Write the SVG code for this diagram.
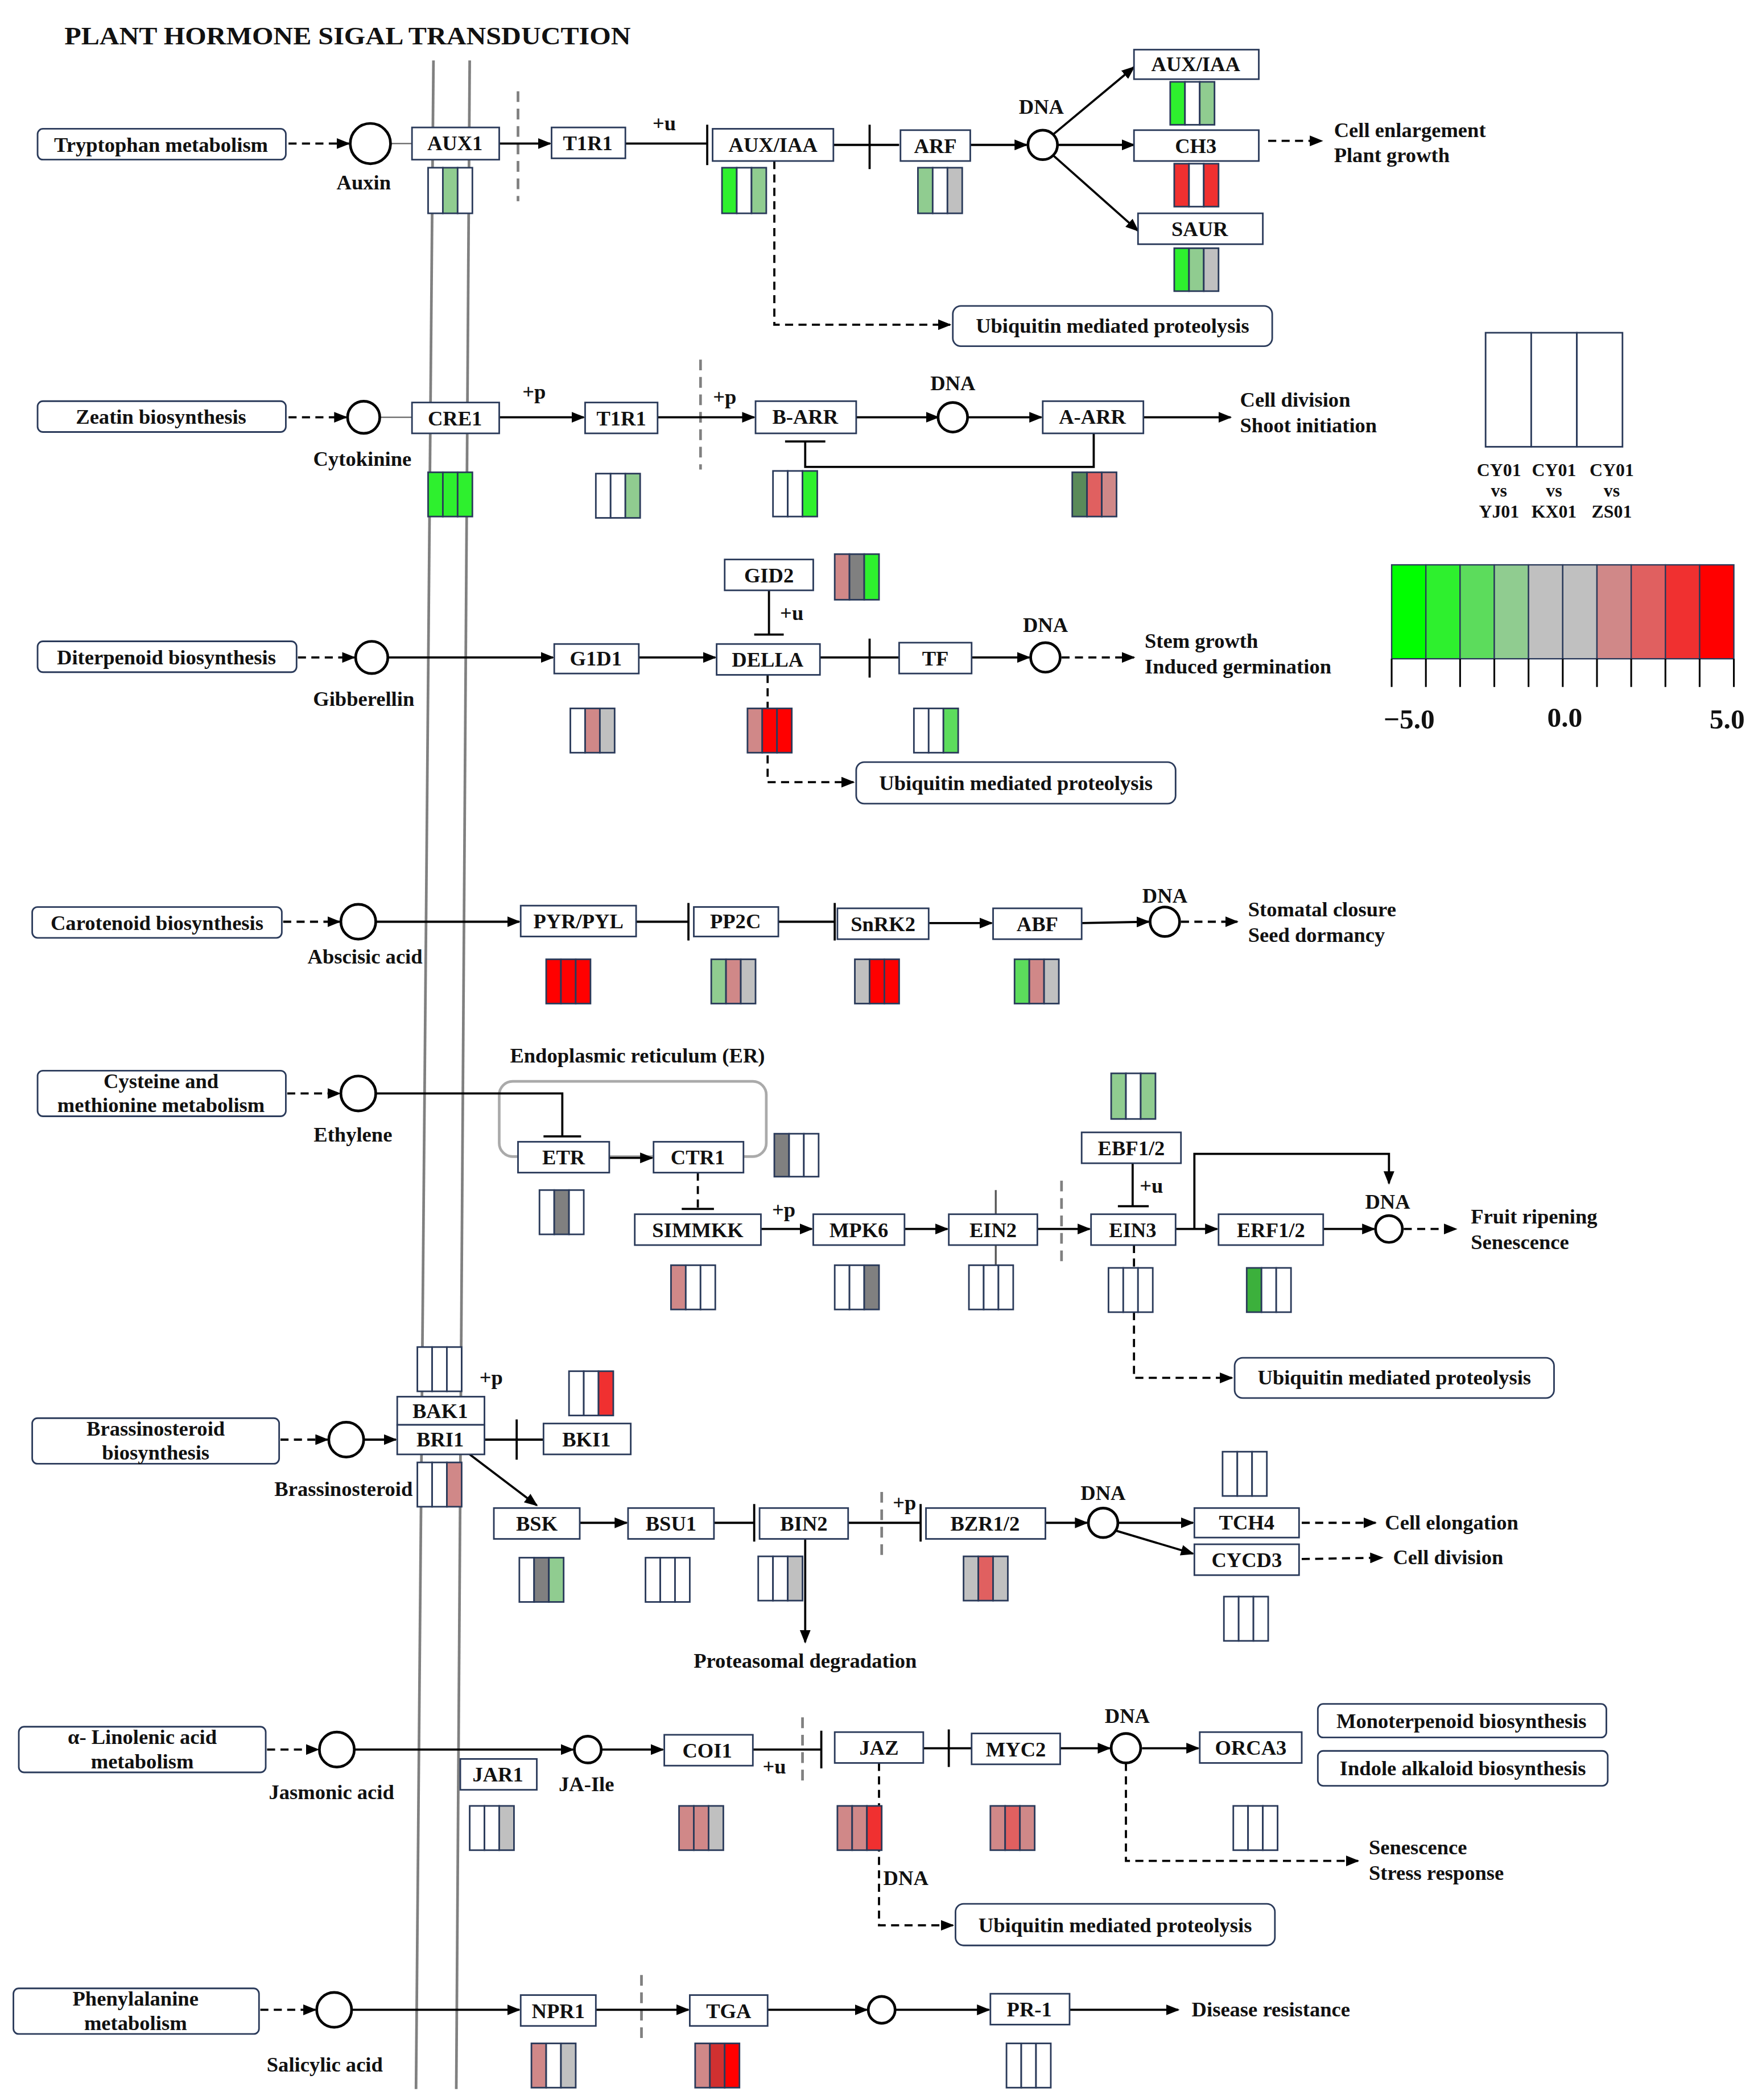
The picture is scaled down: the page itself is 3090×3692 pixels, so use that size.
<svg xmlns="http://www.w3.org/2000/svg" width="3090" height="3692" viewBox="0 0 3090 3692">
<style>
.bx{fill:#fff;stroke:#2a3a5a;stroke-width:1.2}
.pw{fill:#fff;stroke:#2a3a5a;stroke-width:1.2}
.t{font-family:"Liberation Serif",serif;font-weight:bold;font-size:15.5px;text-anchor:middle;fill:#111}
.l{font-family:"Liberation Serif",serif;font-weight:bold;font-size:15.5px;fill:#111}
.ln{stroke:#000;stroke-width:1.6;fill:none}
.da{stroke:#000;stroke-width:1.6;fill:none;stroke-dasharray:6,4}
.gd{stroke:#808080;stroke-width:2;fill:none;stroke-dasharray:8,5}
.c{fill:#fff;stroke:#000;stroke-width:2}
.s rect{stroke:#2a3a5a;stroke-width:1.2}
.w{fill:#fff}.g1{fill:#00ff00}.g2{fill:#2ef02e}.g3{fill:#5cdc5c}.g4{fill:#90cc90}.gr{fill:#c0c0c0}
.r1{fill:#d08888}.r2{fill:#e06060}.r3{fill:#f03030}.r4{fill:#ff0000}.dg{fill:#808080}.dgr{fill:#5a8a5a}.mg{fill:#3cb03c}
</style>
<defs>
<marker id="a" markerUnits="userSpaceOnUse" markerWidth="10" markerHeight="8" refX="9" refY="4" orient="auto"><path d="M0,0L10,4L0,8z" fill="#000"/></marker>
</defs>
<rect width="3090" height="3692" fill="#fff"/>
<g transform="scale(2.3588)">
<text x="48" y="33" class="l" style="font-size:19px" textLength="422" lengthAdjust="spacingAndGlyphs">PLANT HORMONE SIGAL TRANSDUCTION</text>
<g id="membrane" stroke="#808080" stroke-width="2"><line x1="323" y1="45" x2="310" y2="1557"/><line x1="350" y1="45" x2="340" y2="1557"/></g>
<rect x="372" y="806" width="199" height="56" rx="10" fill="none" stroke="#aaa" stroke-width="2"/>
<text x="475" y="792" class="t">Endoplasmic reticulum (ER)</text>

<g id="connectors">
<line x1="215" y1="107" x2="260" y2="107" class="da" marker-end="url(#a)"/>
<line x1="291" y1="107" x2="307" y2="107" stroke="#666" stroke-width="1"/>
<line x1="386" y1="68" x2="386" y2="150" class="gd"/>
<line x1="372" y1="107" x2="410" y2="107" class="ln" marker-end="url(#a)"/>
<path d="M466,107H527M527,93V123" class="ln"/>
<path d="M621,108H670M648,93V126" class="ln"/>
<line x1="723" y1="108" x2="765" y2="108" class="ln" marker-end="url(#a)"/>
<line x1="785" y1="100" x2="845" y2="50" class="ln" marker-end="url(#a)"/>
<line x1="788" y1="108" x2="845" y2="108" class="ln" marker-end="url(#a)"/>
<line x1="785" y1="116" x2="848" y2="172" class="ln" marker-end="url(#a)"/>
<line x1="945" y1="105" x2="985" y2="105" class="da" marker-end="url(#a)"/>
<path d="M577,120V242H708" class="da" marker-end="url(#a)"/>
<line x1="215" y1="311" x2="258" y2="311" class="da" marker-end="url(#a)"/>
<line x1="283" y1="311" x2="307" y2="311" stroke="#666" stroke-width="1"/>
<line x1="372" y1="311" x2="435" y2="311" class="ln" marker-end="url(#a)"/>
<line x1="522" y1="268" x2="522" y2="350" class="gd"/>
<line x1="490" y1="311" x2="562" y2="311" class="ln" marker-end="url(#a)"/>
<line x1="638" y1="311" x2="699" y2="311" class="ln" marker-end="url(#a)"/>
<line x1="721" y1="311" x2="776" y2="311" class="ln" marker-end="url(#a)"/>
<line x1="852" y1="311" x2="917" y2="311" class="ln" marker-end="url(#a)"/>
<path d="M815,323V348H600V329M585,329H615" class="ln"/>
<line x1="222" y1="490" x2="264" y2="490" class="da" marker-end="url(#a)"/>
<line x1="289" y1="490" x2="412" y2="490" class="ln" marker-end="url(#a)"/>
<line x1="476" y1="490" x2="533" y2="490" class="ln" marker-end="url(#a)"/>
<path d="M573,440V473M562,473H584" class="ln"/>
<path d="M611,490H670M648,476V505" class="ln"/>
<line x1="724" y1="490" x2="767" y2="490" class="ln" marker-end="url(#a)"/>
<line x1="791" y1="490" x2="845" y2="490" class="da" marker-end="url(#a)"/>
<path d="M572,503V583H636" class="da" marker-end="url(#a)"/>
<line x1="211" y1="687" x2="253" y2="687" class="da" marker-end="url(#a)"/>
<line x1="280" y1="687" x2="387" y2="687" class="ln" marker-end="url(#a)"/>
<path d="M474,687H513M513,673V701" class="ln"/>
<path d="M580,687H622M622,673V701" class="ln"/>
<line x1="692" y1="688" x2="739" y2="688" class="ln" marker-end="url(#a)"/>
<line x1="806" y1="688" x2="856" y2="687" class="ln" marker-end="url(#a)"/>
<line x1="880" y1="687" x2="922" y2="687" class="da" marker-end="url(#a)"/>
<line x1="214" y1="815" x2="253" y2="815" class="da" marker-end="url(#a)"/>
<path d="M280,815H419V847M405,847H433" class="ln"/>
<line x1="454" y1="863" x2="486" y2="863" class="ln" marker-end="url(#a)"/>
<path d="M520,874V901" class="da"/><path d="M508,901H532" class="ln"/>
<line x1="567" y1="916" x2="605" y2="916" class="ln" marker-end="url(#a)"/>
<line x1="674" y1="916" x2="706" y2="916" class="ln" marker-end="url(#a)"/>
<line x1="742" y1="887" x2="742" y2="970" stroke="#555" stroke-width="1.4"/>
<line x1="791" y1="880" x2="791" y2="940" class="gd"/>
<line x1="773" y1="916" x2="812" y2="916" class="ln" marker-end="url(#a)"/>
<path d="M844,867V899M833,899H856" class="ln"/>
<line x1="876" y1="916" x2="907" y2="916" class="ln" marker-end="url(#a)"/>
<path d="M890,916V860H1035V882" class="ln" marker-end="url(#a)"/>
<line x1="986" y1="916" x2="1024" y2="916" class="ln" marker-end="url(#a)"/>
<line x1="1046" y1="916" x2="1085" y2="916" class="da" marker-end="url(#a)"/>
<path d="M845,928V1027H918" class="da" marker-end="url(#a)"/>
<line x1="209" y1="1073" x2="244" y2="1073" class="da" marker-end="url(#a)"/>
<line x1="271" y1="1073" x2="295" y2="1073" class="ln" marker-end="url(#a)"/>
<path d="M361,1073H405M385,1058V1088" class="ln"/>
<line x1="350" y1="1084" x2="400" y2="1122" class="ln" marker-end="url(#a)"/>
<line x1="432" y1="1135" x2="467" y2="1135" class="ln" marker-end="url(#a)"/>
<path d="M532,1135H562M562,1121V1149" class="ln"/>
<line x1="600" y1="1147" x2="600" y2="1224" class="ln" marker-end="url(#a)"/>
<line x1="657" y1="1112" x2="657" y2="1160" class="gd"/>
<path d="M632,1135H686M686,1121V1149" class="ln"/>
<line x1="779" y1="1135" x2="810" y2="1135" class="ln" marker-end="url(#a)"/>
<line x1="833" y1="1135" x2="889" y2="1135" class="ln" marker-end="url(#a)"/>
<line x1="832" y1="1141" x2="889" y2="1158" class="ln" marker-end="url(#a)"/>
<line x1="970" y1="1135" x2="1025" y2="1135" class="da" marker-end="url(#a)"/>
<line x1="970" y1="1162" x2="1030" y2="1161" class="da" marker-end="url(#a)"/>
<line x1="199" y1="1304" x2="237" y2="1304" class="da" marker-end="url(#a)"/>
<line x1="264" y1="1304" x2="427" y2="1304" class="ln" marker-end="url(#a)"/>
<line x1="448" y1="1304" x2="494" y2="1304" class="ln" marker-end="url(#a)"/>
<line x1="598" y1="1280" x2="598" y2="1328" class="gd"/>
<path d="M561,1304H612M612,1290V1318" class="ln"/>
<path d="M688,1303H724M707,1289V1317" class="ln"/>
<line x1="790" y1="1303" x2="827" y2="1303" class="ln" marker-end="url(#a)"/>
<line x1="851" y1="1303" x2="893" y2="1303" class="ln" marker-end="url(#a)"/>
<path d="M839,1314V1387H1012" class="da" marker-end="url(#a)"/>
<path d="M655,1314V1435H710" class="da" marker-end="url(#a)"/>
<line x1="194" y1="1498" x2="235" y2="1498" class="da" marker-end="url(#a)"/>
<line x1="262" y1="1498" x2="387" y2="1498" class="ln" marker-end="url(#a)"/>
<line x1="478" y1="1472" x2="478" y2="1522" class="gd"/>
<line x1="444" y1="1498" x2="513" y2="1498" class="ln" marker-end="url(#a)"/>
<line x1="572" y1="1498" x2="646" y2="1498" class="ln" marker-end="url(#a)"/>
<line x1="667" y1="1498" x2="737" y2="1498" class="ln" marker-end="url(#a)"/>
<line x1="797" y1="1498" x2="878" y2="1498" class="ln" marker-end="url(#a)"/>
</g>

<g id="labels">
<text x="271" y="141" class="t">Auxin</text>
<text x="495" y="97" class="t">+u</text>
<text x="776" y="85" class="t">DNA</text>
<text x="994" y="102" class="l">Cell enlargement</text><text x="994" y="121" class="l">Plant growth</text>
<text x="270" y="347" class="t">Cytokinine</text>
<text x="398" y="297" class="t">+p</text><text x="540" y="301" class="t">+p</text>
<text x="710" y="291" class="t">DNA</text>
<text x="924" y="303" class="l">Cell division</text><text x="924" y="322" class="l">Shoot initiation</text>
<text x="271" y="526" class="t">Gibberellin</text>
<text x="590" y="462" class="t">+u</text>
<text x="779" y="471" class="t">DNA</text>
<text x="853" y="483" class="l">Stem growth</text><text x="853" y="502" class="l">Induced germination</text>
<text x="272" y="718" class="t">Abscisic acid</text>
<text x="868" y="673" class="t">DNA</text>
<text x="930" y="683" class="l">Stomatal closure</text><text x="930" y="702" class="l">Seed dormancy</text>
<text x="263" y="851" class="t">Ethylene</text>
<text x="584" y="907" class="t">+p</text>
<text x="858" y="889" class="t">+u</text>
<text x="1034" y="901" class="t">DNA</text>
<text x="1096" y="912" class="l">Fruit ripening</text><text x="1096" y="931" class="l">Senescence</text>
<text x="256" y="1115" class="t">Brassinosteroid</text>
<text x="366" y="1032" class="t">+p</text>
<text x="674" y="1125" class="t">+p</text>
<text x="822" y="1118" class="t">DNA</text>
<text x="600" y="1243" class="t">Proteasomal degradation</text>
<text x="1032" y="1140" class="l">Cell elongation</text>
<text x="1038" y="1166" class="l">Cell division</text>
<text x="247" y="1341" class="t">Jasmonic acid</text>
<text x="437" y="1335" class="t">JA-Ile</text>
<text x="577" y="1322" class="t">+u</text>
<text x="840" y="1284" class="t">DNA</text>
<text x="675" y="1405" class="t">DNA</text>
<text x="1020" y="1382" class="l">Senescence</text><text x="1020" y="1401" class="l">Stress response</text>
<text x="242" y="1544" class="t">Salicylic acid</text>
<text x="888" y="1503" class="l">Disease resistance</text>
</g>

<g id="pathways">
<g id="p1"><rect x="28" y="96" width="185" height="23" rx="4" class="pw"/><text x="120" y="113" class="t">Tryptophan  metabolism</text></g>
<g id="p2"><rect x="28" y="299" width="185" height="23" rx="4" class="pw"/><text x="120" y="316" class="t">Zeatin  biosynthesis</text></g>
<g id="p3"><rect x="28" y="478" width="193" height="23" rx="4" class="pw"/><text x="124" y="495" class="t">Diterpenoid biosynthesis</text></g>
<g id="p4"><rect x="24" y="676" width="186" height="23" rx="4" class="pw"/><text x="117" y="693" class="t">Carotenoid biosynthesis</text></g>
<g id="p5"><rect x="28" y="798" width="185" height="34" rx="4" class="pw"/><text x="120" y="811" class="t">Cysteine and</text><text x="120" y="829" class="t">methionine metabolism</text></g>
<g id="p6"><rect x="24" y="1057" width="184" height="34" rx="4" class="pw"/><text x="116" y="1070" class="t">Brassinosteroid</text><text x="116" y="1088" class="t">biosynthesis</text></g>
<g id="p7"><rect x="14" y="1287" width="184" height="34" rx="4" class="pw"/><text x="106" y="1300" class="t">α- Linolenic acid</text><text x="106" y="1318" class="t">metabolism</text></g>
<g id="p8"><rect x="10" y="1482" width="183" height="34" rx="4" class="pw"/><text x="101" y="1495" class="t">Phenylalanine</text><text x="101" y="1513" class="t">metabolism</text></g>
<g id="u1"><rect x="710" y="228" width="238" height="30" rx="6" class="pw"/><text x="829" y="248" class="t">Ubiquitin mediated proteolysis</text></g>
<g id="u2"><rect x="638" y="568" width="238" height="31" rx="6" class="pw"/><text x="757" y="589" class="t">Ubiquitin mediated proteolysis</text></g>
<g id="u3"><rect x="920" y="1012" width="238" height="30" rx="6" class="pw"/><text x="1039" y="1032" class="t">Ubiquitin mediated proteolysis</text></g>
<g id="u4"><rect x="712" y="1419" width="238" height="31" rx="6" class="pw"/><text x="831" y="1440" class="t">Ubiquitin mediated proteolysis</text></g>
<g id="mono"><rect x="982" y="1270" width="215" height="25" rx="4" class="pw" stroke-width="1.6"/><text x="1089" y="1288" class="t">Monoterpenoid biosynthesis</text></g>
<g id="indole"><rect x="982" y="1305" width="216" height="26" rx="4" class="pw" stroke-width="1.6"/><text x="1090" y="1323" class="t">Indole alkaloid biosynthesis</text></g>
</g>

<g id="compounds">
<ellipse cx="276" cy="107" rx="15" ry="15" class="c"/>
<circle cx="777" cy="108" r="11" class="c"/>
<circle cx="271" cy="311" r="12" class="c"/>
<circle cx="710" cy="311" r="11" class="c"/>
<circle cx="277" cy="490" r="12" class="c"/>
<circle cx="779" cy="490" r="11" class="c"/>
<circle cx="267" cy="687" r="13" class="c"/>
<circle cx="868" cy="687" r="11" class="c"/>
<circle cx="267" cy="815" r="13" class="c"/>
<circle cx="1035" cy="916" r="10" class="c"/>
<circle cx="258" cy="1073" r="13" class="c"/>
<circle cx="822" cy="1135" r="11" class="c"/>
<circle cx="251" cy="1304" r="13" class="c"/>
<circle cx="438" cy="1304" r="10" class="c"/>
<circle cx="839" cy="1303" r="11" class="c"/>
<circle cx="249" cy="1498" r="13" class="c"/>
<circle cx="657" cy="1498" r="10" class="c"/>
</g>

<g id="genes">
<g id="n-AUX1"><rect x="307" y="95" width="65" height="24" class="bx"/><text x="339" y="112" class="t">AUX1</text></g>
<g id="n-T1R1a"><rect x="411" y="95" width="55" height="23" class="bx"/><text x="438" y="112" class="t">T1R1</text></g>
<g id="n-AUXIAA"><rect x="531" y="96" width="90" height="24" class="bx"/><text x="576" y="113" class="t">AUX/IAA</text></g>
<g id="n-ARF"><rect x="671" y="97" width="52" height="23" class="bx"/><text x="697" y="114" class="t">ARF</text></g>
<g id="n-AUXIAA2"><rect x="845" y="37" width="93" height="22" class="bx"/><text x="891" y="53" class="t">AUX/IAA</text></g>
<g id="n-CH3"><rect x="845" y="97" width="93" height="23" class="bx"/><text x="891" y="114" class="t">CH3</text></g>
<g id="n-SAUR"><rect x="848" y="159" width="93" height="23" class="bx"/><text x="894" y="176" class="t">SAUR</text></g>
<g id="n-CRE1"><rect x="307" y="300" width="65" height="23" class="bx"/><text x="339" y="317" class="t">CRE1</text></g>
<g id="n-T1R1b"><rect x="436" y="300" width="54" height="23" class="bx"/><text x="463" y="317" class="t">T1R1</text></g>
<g id="n-BARR"><rect x="563" y="299" width="75" height="24" class="bx"/><text x="600" y="316" class="t">B-ARR</text></g>
<g id="n-AARR"><rect x="777" y="299" width="75" height="24" class="bx"/><text x="814" y="316" class="t">A-ARR</text></g>
<g id="n-GID2"><rect x="540" y="417" width="66" height="23" class="bx"/><text x="573" y="434" class="t">GID2</text></g>
<g id="n-G1D1"><rect x="413" y="480" width="63" height="22" class="bx"/><text x="444" y="496" class="t">G1D1</text></g>
<g id="n-DELLA"><rect x="534" y="480" width="77" height="23" class="bx"/><text x="572" y="497" class="t">DELLA</text></g>
<g id="n-TF"><rect x="670" y="479" width="54" height="23" class="bx"/><text x="697" y="496" class="t">TF</text></g>
<g id="n-PYR"><rect x="388" y="675" width="86" height="23" class="bx"/><text x="431" y="692" class="t">PYR/PYL</text></g>
<g id="n-PP2C"><rect x="517" y="676" width="63" height="22" class="bx"/><text x="548" y="692" class="t">PP2C</text></g>
<g id="n-SnRK2"><rect x="624" y="677" width="68" height="23" class="bx"/><text x="658" y="694" class="t">SnRK2</text></g>
<g id="n-ABF"><rect x="740" y="677" width="66" height="23" class="bx"/><text x="773" y="694" class="t">ABF</text></g>
<g id="n-ETR"><rect x="386" y="851" width="68" height="23" class="bx"/><text x="420" y="868" class="t">ETR</text></g>
<g id="n-CTR1"><rect x="487" y="851" width="67" height="23" class="bx"/><text x="520" y="868" class="t">CTR1</text></g>
<g id="n-SIMMKK"><rect x="473" y="905" width="94" height="23" class="bx"/><text x="520" y="922" class="t">SIMMKK</text></g>
<g id="n-MPK6"><rect x="606" y="905" width="68" height="23" class="bx"/><text x="640" y="922" class="t">MPK6</text></g>
<g id="n-EIN2"><rect x="707" y="905" width="66" height="23" class="bx"/><text x="740" y="922" class="t">EIN2</text></g>
<g id="n-EIN3"><rect x="813" y="905" width="63" height="23" class="bx"/><text x="844" y="922" class="t">EIN3</text></g>
<g id="n-EBF"><rect x="806" y="844" width="74" height="23" class="bx"/><text x="843" y="861" class="t">EBF1/2</text></g>
<g id="n-ERF"><rect x="908" y="905" width="78" height="23" class="bx"/><text x="947" y="922" class="t">ERF1/2</text></g>
<g id="n-BAK1"><rect x="296" y="1041" width="65" height="21" class="bx"/><text x="328" y="1057" class="t">BAK1</text></g>
<g id="n-BRI1"><rect x="296" y="1062" width="65" height="22" class="bx"/><text x="328" y="1078" class="t">BRI1</text></g>
<g id="n-BKI1"><rect x="405" y="1061" width="65" height="23" class="bx"/><text x="437" y="1078" class="t">BKI1</text></g>
<g id="n-BSK"><rect x="368" y="1124" width="64" height="23" class="bx"/><text x="400" y="1141" class="t">BSK</text></g>
<g id="n-BSU1"><rect x="468" y="1124" width="64" height="23" class="bx"/><text x="500" y="1141" class="t">BSU1</text></g>
<g id="n-BIN2"><rect x="566" y="1124" width="66" height="23" class="bx"/><text x="599" y="1141" class="t">BIN2</text></g>
<g id="n-BZR"><rect x="690" y="1124" width="89" height="23" class="bx"/><text x="734" y="1141" class="t">BZR1/2</text></g>
<g id="n-TCH4"><rect x="890" y="1124" width="78" height="22" class="bx"/><text x="929" y="1140" class="t">TCH4</text></g>
<g id="n-CYCD3"><rect x="890" y="1151" width="78" height="23" class="bx"/><text x="929" y="1168" class="t">CYCD3</text></g>
<g id="n-JAR1"><rect x="343" y="1311" width="57" height="23" class="bx"/><text x="371" y="1328" class="t">JAR1</text></g>
<g id="n-COI1"><rect x="495" y="1293" width="66" height="23" class="bx"/><text x="527" y="1310" class="t">COI1</text></g>
<g id="n-JAZ"><rect x="622" y="1291" width="66" height="23" class="bx"/><text x="655" y="1308" class="t">JAZ</text></g>
<g id="n-MYC2"><rect x="724" y="1292" width="66" height="23" class="bx"/><text x="757" y="1309" class="t">MYC2</text></g>
<g id="n-ORCA3"><rect x="894" y="1291" width="76" height="23" class="bx"/><text x="932" y="1308" class="t">ORCA3</text></g>
<g id="n-NPR1"><rect x="388" y="1487" width="56" height="23" class="bx"/><text x="416" y="1504" class="t">NPR1</text></g>
<g id="n-TGA"><rect x="514" y="1487" width="58" height="23" class="bx"/><text x="543" y="1504" class="t">TGA</text></g>
<g id="n-PR1"><rect x="738" y="1486" width="59" height="23" class="bx"/><text x="767" y="1503" class="t">PR-1</text></g>
</g>

<g id="heatmaps" class="s">
<g transform="translate(319,125)"><rect width="11" height="34" class="w"/><rect x="11" width="11" height="34" class="g4"/><rect x="22" width="11" height="34" class="w"/></g>
<g transform="translate(538,125)"><rect width="11" height="34" class="g2"/><rect x="11" width="11" height="34" class="w"/><rect x="22" width="11" height="34" class="g4"/></g>
<g transform="translate(684,125)"><rect width="11" height="34" class="g4"/><rect x="11" width="11" height="34" class="w"/><rect x="22" width="11" height="34" class="gr"/></g>
<g transform="translate(872,61)"><rect width="11" height="32" class="g2"/><rect x="11" width="11" height="32" class="w"/><rect x="22" width="11" height="32" class="g4"/></g>
<g transform="translate(875,122)"><rect width="11" height="32" class="r3"/><rect x="11" width="11" height="32" class="w"/><rect x="22" width="11" height="32" class="r3"/></g>
<g transform="translate(875,185)"><rect width="11" height="32" class="g2"/><rect x="11" width="11" height="32" class="g4"/><rect x="22" width="11" height="32" class="gr"/></g>
<g transform="translate(319,352)"><rect width="11" height="33" class="g2"/><rect x="11" width="11" height="33" class="g2"/><rect x="22" width="11" height="33" class="g2"/></g>
<g transform="translate(444,353)"><rect width="11" height="33" class="w"/><rect x="11" width="11" height="33" class="w"/><rect x="22" width="11" height="33" class="g4"/></g>
<g transform="translate(576,351)"><rect width="11" height="34" class="w"/><rect x="11" width="11" height="34" class="w"/><rect x="22" width="11" height="34" class="g2"/></g>
<g transform="translate(799,352)"><rect width="11" height="33" class="dgr"/><rect x="11" width="11" height="33" class="r2"/><rect x="22" width="11" height="33" class="r1"/></g>
<g transform="translate(622,413)"><rect width="11" height="34" class="r1"/><rect x="11" width="11" height="34" class="dg"/><rect x="22" width="11" height="34" class="g2"/></g>
<g transform="translate(425,528)"><rect width="11" height="33" class="w"/><rect x="11" width="11" height="33" class="r1"/><rect x="22" width="11" height="33" class="gr"/></g>
<g transform="translate(557,528)"><rect width="11" height="33" class="r1"/><rect x="11" width="11" height="33" class="r4"/><rect x="22" width="11" height="33" class="r4"/></g>
<g transform="translate(681,528)"><rect width="11" height="33" class="w"/><rect x="11" width="11" height="33" class="w"/><rect x="22" width="11" height="33" class="g3"/></g>
<g transform="translate(407,715)"><rect width="11" height="33" class="r4"/><rect x="11" width="11" height="33" class="r4"/><rect x="22" width="11" height="33" class="r4"/></g>
<g transform="translate(530,715)"><rect width="11" height="33" class="g4"/><rect x="11" width="11" height="33" class="r1"/><rect x="22" width="11" height="33" class="gr"/></g>
<g transform="translate(637,715)"><rect width="11" height="33" class="gr"/><rect x="11" width="11" height="33" class="r4"/><rect x="22" width="11" height="33" class="r4"/></g>
<g transform="translate(756,715)"><rect width="11" height="33" class="g3"/><rect x="11" width="11" height="33" class="r1"/><rect x="22" width="11" height="33" class="gr"/></g>
<g transform="translate(402,887)"><rect width="11" height="33" class="w"/><rect x="11" width="11" height="33" class="dg"/><rect x="22" width="11" height="33" class="w"/></g>
<g transform="translate(577,845)"><rect width="11" height="32" class="dg"/><rect x="11" width="11" height="32" class="w"/><rect x="22" width="11" height="32" class="w"/></g>
<g transform="translate(500,943)"><rect width="11" height="33" class="r1"/><rect x="11" width="11" height="33" class="w"/><rect x="22" width="11" height="33" class="w"/></g>
<g transform="translate(622,943)"><rect width="11" height="33" class="w"/><rect x="11" width="11" height="33" class="w"/><rect x="22" width="11" height="33" class="dg"/></g>
<g transform="translate(722,943)"><rect width="11" height="33" class="w"/><rect x="11" width="11" height="33" class="w"/><rect x="22" width="11" height="33" class="w"/></g>
<g transform="translate(826,945)"><rect width="11" height="33" class="w"/><rect x="11" width="11" height="33" class="w"/><rect x="22" width="11" height="33" class="w"/></g>
<g transform="translate(828,800)"><rect width="11" height="34" class="g4"/><rect x="11" width="11" height="34" class="w"/><rect x="22" width="11" height="34" class="g4"/></g>
<g transform="translate(929,945)"><rect width="11" height="33" class="mg"/><rect x="11" width="11" height="33" class="w"/><rect x="22" width="11" height="33" class="w"/></g>
<g transform="translate(311,1004)"><rect width="11" height="33" class="w"/><rect x="11" width="11" height="33" class="w"/><rect x="22" width="11" height="33" class="w"/></g>
<g transform="translate(311,1090)"><rect width="11" height="33" class="w"/><rect x="11" width="11" height="33" class="w"/><rect x="22" width="11" height="33" class="r1"/></g>
<g transform="translate(424,1022)"><rect width="11" height="33" class="w"/><rect x="11" width="11" height="33" class="w"/><rect x="22" width="11" height="33" class="r3"/></g>
<g transform="translate(387,1161)"><rect width="11" height="33" class="w"/><rect x="11" width="11" height="33" class="dg"/><rect x="22" width="11" height="33" class="g4"/></g>
<g transform="translate(481,1161)"><rect width="11" height="33" class="w"/><rect x="11" width="11" height="33" class="w"/><rect x="22" width="11" height="33" class="w"/></g>
<g transform="translate(565,1160)"><rect width="11" height="33" class="w"/><rect x="11" width="11" height="33" class="w"/><rect x="22" width="11" height="33" class="gr"/></g>
<g transform="translate(718,1160)"><rect width="11" height="33" class="gr"/><rect x="11" width="11" height="33" class="r2"/><rect x="22" width="11" height="33" class="gr"/></g>
<g transform="translate(911,1082)"><rect width="11" height="33" class="w"/><rect x="11" width="11" height="33" class="w"/><rect x="22" width="11" height="33" class="w"/></g>
<g transform="translate(912,1190)"><rect width="11" height="33" class="w"/><rect x="11" width="11" height="33" class="w"/><rect x="22" width="11" height="33" class="w"/></g>
<g transform="translate(350,1346)"><rect width="11" height="33" class="w"/><rect x="11" width="11" height="33" class="w"/><rect x="22" width="11" height="33" class="gr"/></g>
<g transform="translate(506,1346)"><rect width="11" height="33" class="r1"/><rect x="11" width="11" height="33" class="r1"/><rect x="22" width="11" height="33" class="gr"/></g>
<g transform="translate(624,1346)"><rect width="11" height="33" class="r1"/><rect x="11" width="11" height="33" class="r1"/><rect x="22" width="11" height="33" class="r3"/></g>
<g transform="translate(738,1346)"><rect width="11" height="33" class="r1"/><rect x="11" width="11" height="33" class="r2"/><rect x="22" width="11" height="33" class="r1"/></g>
<g transform="translate(919,1346)"><rect width="11" height="33" class="w"/><rect x="11" width="11" height="33" class="w"/><rect x="22" width="11" height="33" class="w"/></g>
<g transform="translate(396,1523)"><rect width="11" height="33" class="r1"/><rect x="11" width="11" height="33" class="w"/><rect x="22" width="11" height="33" class="gr"/></g>
<g transform="translate(518,1523)"><rect width="11" height="33" class="r1"/><rect x="11" width="11" height="33" fill="#d03030"/><rect x="22" width="11" height="33" class="r4"/></g>
<g transform="translate(750,1523)"><rect width="11" height="33" class="w"/><rect x="11" width="11" height="33" class="w"/><rect x="22" width="11" height="33" class="w"/></g>
</g>

<g id="legend">
<g class="s"><rect x="1107" y="248" width="34" height="85" class="w"/><rect x="1141" y="248" width="34" height="85" class="w"/><rect x="1175" y="248" width="34" height="85" class="w"/></g>
<text x="1117" y="355" class="t" style="font-size:13.5px">CY01</text><text x="1117" y="370" class="t" style="font-size:13.5px">vs</text><text x="1117" y="386" class="t" style="font-size:13.5px">YJ01</text>
<text x="1158" y="355" class="t" style="font-size:13.5px">CY01</text><text x="1158" y="370" class="t" style="font-size:13.5px">vs</text><text x="1158" y="386" class="t" style="font-size:13.5px">KX01</text>
<text x="1201" y="355" class="t" style="font-size:13.5px">CY01</text><text x="1201" y="370" class="t" style="font-size:13.5px">vs</text><text x="1201" y="386" class="t" style="font-size:13.5px">ZS01</text>
<g stroke="#2a3a5a" stroke-width="1">
<rect x="1037" y="421" width="25.5" height="70" class="g1"/><rect x="1062.5" y="421" width="25.5" height="70" class="g2"/><rect x="1088" y="421" width="25.5" height="70" class="g3"/><rect x="1113.5" y="421" width="25.5" height="70" class="g4"/><rect x="1139" y="421" width="25.5" height="70" class="gr"/><rect x="1164.5" y="421" width="25.5" height="70" class="gr"/><rect x="1190" y="421" width="25.5" height="70" class="r1"/><rect x="1215.5" y="421" width="25.5" height="70" class="r2"/><rect x="1241" y="421" width="25.5" height="70" class="r3"/><rect x="1266.5" y="421" width="25.5" height="70" class="r4"/>
</g>
<path d="M1037,491V512M1062.5,491V512M1088,491V512M1113.5,491V512M1139,491V512M1164.5,491V512M1190,491V512M1215.5,491V512M1241,491V512M1266.5,491V512M1292,491V512" stroke="#000" stroke-width="1.3"/>
<text x="1050" y="543" class="t" style="font-size:21px">−5.0</text>
<text x="1166" y="542" class="t" style="font-size:21px">0.0</text>
<text x="1287" y="543" class="t" style="font-size:21px">5.0</text>
</g>
</g>
</svg>
